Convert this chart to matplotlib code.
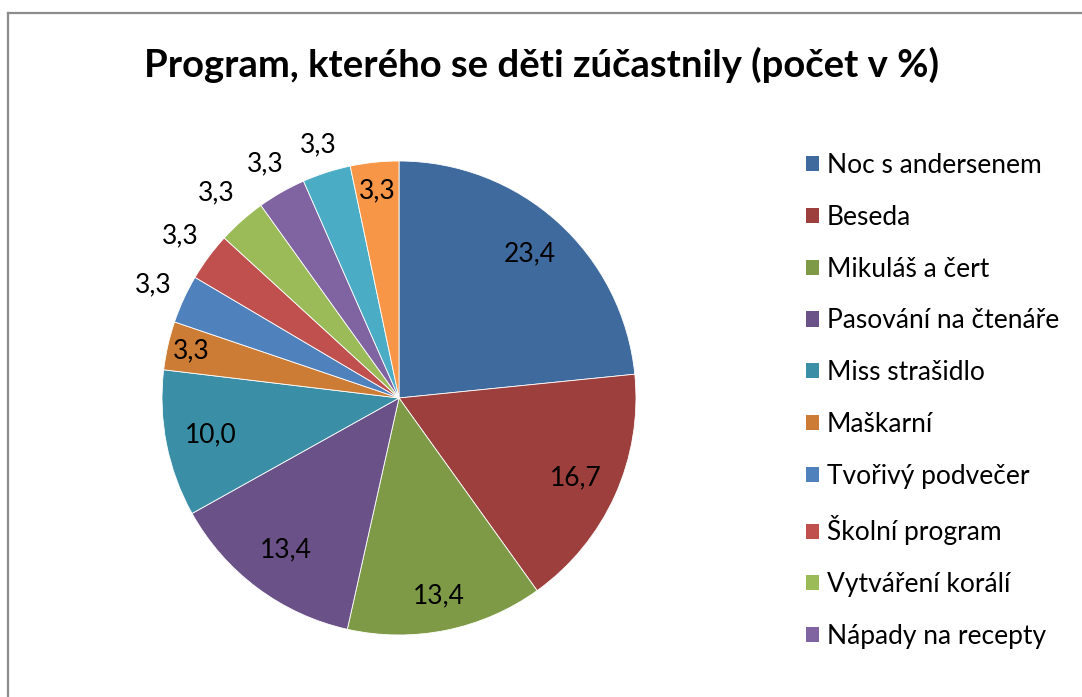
import numpy as np
import matplotlib.pyplot as plt
from matplotlib.patches import Patch

plt.rcParams['font.family'] = ['Lato', 'DejaVu Sans']

# Podíl programů (počet v %)
categories = ["Noc s andersenem", "Beseda", "Mikuláš a čert", "Pasování na čtenáře",
              "Miss strašidlo", "Maškarní", "Tvořivý podvečer", "Školní program",
              "Vytváření korálí", "Nápady na recepty"]
values = [23.4, 16.7, 13.4, 13.4, 10.0, 3.3, 3.3, 3.3, 3.3, 3.3, 3.3, 3.3]
labels = ["23,4", "16,7", "13,4", "13,4", "10,0", "3,3", "3,3", "3,3", "3,3", "3,3", "3,3", "3,3"]
colors = ["#3F6A9D", "#9D3F3C", "#7E9A47", "#6A5187", "#3A8EA5", "#CC7C35",
          "#4F81BD", "#C0504D", "#9BBB59", "#8064A2", "#4BACC6", "#F79646"]
# umístění popisků: vzdálenost od středu (násobek poloměru)
label_r = [0.82, 0.82, 0.85, 0.8, 0.81, 0.9, 1.14, 1.15, 1.16, 1.14, 1.12, 0.88]

W, H = 1082, 697
fig = plt.figure(figsize=(W / 100, H / 100), dpi=100)

cx, cy, R = 399, 398, 237
half = 1.25 * R
ax = fig.add_axes([(cx - half) / W, (H - cy - half) / H, 2 * half / W, 2 * half / H])
wedges, _ = ax.pie(values, colors=colors, startangle=90, counterclock=False,
                   wedgeprops=dict(linewidth=0.6, edgecolor='white'))
ax.set_xlim(-1.25, 1.25)
ax.set_ylim(-1.25, 1.25)
ax.set_aspect('equal')

for w, lab, r in zip(wedges, labels, label_r):
    ang = np.deg2rad((w.theta1 + w.theta2) / 2)
    ax.text(r * np.cos(ang), r * np.sin(ang), lab, ha='center', va='center',
            fontsize=19, color='black')

handles = [Patch(facecolor=colors[i], edgecolor='none') for i in range(len(categories))]
fig.legend(handles, categories, loc='upper left', bbox_to_anchor=(806 / W, 1 - 153 / H),
           frameon=False, fontsize=19, handlelength=0.5, handleheight=0.5,
           handletextpad=0.3, labelspacing=1.015, borderpad=0, borderaxespad=0)

fig.text(541 / W, 1 - 65 / H, "Program, kterého se děti zúčastnily (počet v %)",
         ha='center', va='center', fontsize=27.5, fontweight='bold')

# rámeček grafu (pravý a dolní okraj jsou mimo obrázek)
fig.add_artist(plt.Line2D([8 / W, 8 / W], [0, 1 - 13 / H], color='#8c8c8c', lw=1.6))
fig.add_artist(plt.Line2D([8 / W, 1], [1 - 13 / H, 1 - 13 / H], color='#8c8c8c', lw=1.6))

fig.savefig("out.png", dpi=100)
